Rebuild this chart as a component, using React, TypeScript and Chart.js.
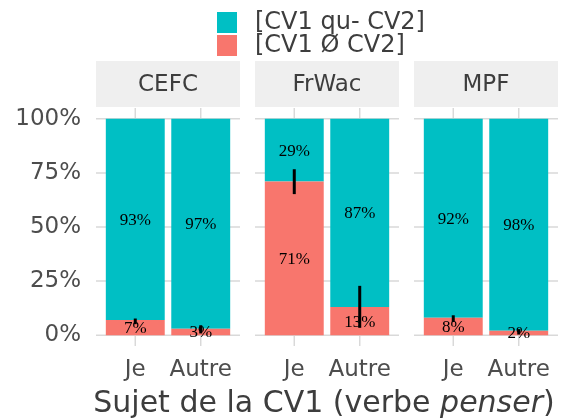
import React, { useEffect, useRef } from "react";
import { Chart, registerables } from "chart.js";

Chart.register(...registerables);

// ---------- data ----------
const facets = ["CEFC", "FrWac", "MPF"];
const subjects = ["Je", "Autre"];
const seriesLabels = ["[CV1 Ø CV2]", "[CV1 qu- CV2]"];
const seriesColors = ["#F8766D", "#00BFC4"];
// one value per (facet, subject): CEFC-Je, CEFC-Autre, FrWac-Je, FrWac-Autre, MPF-Je, MPF-Autre
const zeroPct = [7, 3, 71, 13, 8, 2];
const quPct = [93, 97, 29, 87, 92, 98];
const errLow = [5.1, 0.8, 65.2, 3.4, 6.1, 0.3];
const errHigh = [7.7, 4.6, 76.7, 22.8, 9.2, 2.8];
const yTicks = [0, 25, 50, 75, 100];
const xTitleParts = [
  { text: "Sujet de la CV1 (verbe ", italic: false },
  { text: "penser", italic: true },
  { text: ")", italic: false },
];

// ---------- facet geometry (in x-scale units) ----------
const EXPAND = 0.6;
const PANEL = subjects.length - 1 + 2 * EXPAND;
const GAP = 0.229;
const facetStart = (f: number) => f * (PANEL + GAP);
const slotOf = (i: number) =>
  facetStart(Math.floor(i / subjects.length)) + EXPAND + (i % subjects.length);
const X_MAX = facets.length * PANEL + (facets.length - 1) * GAP;
const slots = zeroPct.map((_, i) => slotOf(i));

const FONT = "'DejaVu Sans'";
const TEXT_DARK = "#3d3d3d";
const TICK_COLOR = "#4d4d4d";
const GRID_COLOR = "#d9d9d9";

const facetPlugin = {
  id: "facetDecor",
  beforeDatasetsDraw(chart: any) {
    const { ctx, chartArea, scales } = chart;
    const xs = scales.x;
    const ys = scales.y;
    ctx.save();
    facets.forEach((name, f) => {
      const left = xs.getPixelForValue(facetStart(f));
      const right = xs.getPixelForValue(facetStart(f) + PANEL);
      // strip
      ctx.fillStyle = "#efefef";
      ctx.fillRect(left, chartArea.top - 47, right - left, 46);
      ctx.fillStyle = TEXT_DARK;
      ctx.font = `23px ${FONT}`;
      ctx.textAlign = "center";
      ctx.textBaseline = "middle";
      ctx.fillText(name, (left + right) / 2, chartArea.top - 23);
      // grid
      ctx.strokeStyle = GRID_COLOR;
      ctx.lineWidth = 1.5;
      yTicks.forEach((t) => {
        const y = ys.getPixelForValue(t);
        ctx.beginPath();
        ctx.moveTo(left, y);
        ctx.lineTo(right, y);
        ctx.stroke();
      });
      subjects.forEach((_, s) => {
        const x = xs.getPixelForValue(facetStart(f) + EXPAND + s);
        ctx.beginPath();
        ctx.moveTo(x, chartArea.top);
        ctx.lineTo(x, chartArea.bottom);
        ctx.stroke();
      });
    });
    ctx.restore();
  },
  afterDatasetsDraw(chart: any) {
    const { ctx, scales, chartArea } = chart;
    const xs = scales.x;
    const ys = scales.y;
    ctx.save();
    // value labels
    ctx.font = "17px 'Liberation Serif'";
    ctx.fillStyle = "#000";
    ctx.textAlign = "center";
    ctx.textBaseline = "middle";
    chart.data.datasets.forEach((ds: any, di: number) => {
      const meta = chart.getDatasetMeta(di);
      meta.data.forEach((el: any, i: number) => {
        const p = el.getProps(["x", "y", "base"], true);
        ctx.fillText(ds.data[i].y + "%", p.x, (p.y + p.base) / 2 + 1);
      });
    });
    // error bars
    ctx.strokeStyle = "#000";
    ctx.lineWidth = 3;
    ctx.lineCap = "butt";
    slots.forEach((s, i) => {
      const x = xs.getPixelForValue(s);
      ctx.beginPath();
      ctx.moveTo(x, ys.getPixelForValue(errLow[i]));
      ctx.lineTo(x, ys.getPixelForValue(errHigh[i]));
      ctx.stroke();
    });
    // legend (reverse order: top series first)
    const order = chart.data.datasets.map((_: any, i: number) => i).reverse();
    ctx.font = `24px ${FONT}`;
    ctx.textAlign = "left";
    ctx.textBaseline = "middle";
    order.forEach((di: number, row: number) => {
      const ds = chart.data.datasets[di];
      const top = 12 + row * 23;
      ctx.fillStyle = ds.backgroundColor;
      ctx.fillRect(217, top, 20, 21);
      ctx.fillStyle = TEXT_DARK;
      ctx.fillText(ds.label, 255, top + 11);
    });
    // x axis title with italic part
    const fonts = (it: boolean) => `${it ? "italic " : ""}30px ${FONT}`;
    let total = 0;
    const widths = xTitleParts.map((p) => {
      ctx.font = fonts(p.italic);
      const w = ctx.measureText(p.text).width;
      total += w;
      return w;
    });
    let x = (chartArea.left + chartArea.right) / 2 - 3 - total / 2;
    ctx.fillStyle = TEXT_DARK;
    ctx.textBaseline = "alphabetic";
    xTitleParts.forEach((p, i) => {
      ctx.font = fonts(p.italic);
      ctx.fillText(p.text, x, 412);
      x += widths[i];
    });
    ctx.restore();
  },
};

export default function App() {
  const ref = useRef<HTMLCanvasElement>(null);
  useEffect(() => {
    const canvas = ref.current;
    if (!canvas) return;
    const chart = new Chart(canvas, {
      type: "bar",
      data: {
        datasets: [
          {
            label: seriesLabels[0],
            data: zeroPct.map((v, i) => ({ x: slots[i], y: v })),
            backgroundColor: seriesColors[0],
            borderWidth: 0,
            barPercentage: 0.9,
            categoryPercentage: 1,
          },
          {
            label: seriesLabels[1],
            data: quPct.map((v, i) => ({ x: slots[i], y: v })),
            backgroundColor: seriesColors[1],
            borderWidth: 0,
            barPercentage: 0.9,
            categoryPercentage: 1,
          },
        ],
      } as any,
      options: {
        animation: false,
        responsive: false,
        devicePixelRatio: 1,
        layout: { padding: { top: 108, right: 4, left: 0, bottom: 0 } },
        plugins: { legend: { display: false }, tooltip: { enabled: false } },
        scales: {
          x: {
            type: "linear",
            offset: false,
            stacked: true,
            min: 0,
            max: X_MAX,
            grid: { display: false, drawTicks: false, offset: false },
            border: { display: false },
            afterBuildTicks: (s: any) => {
              s.ticks = slots.map((v) => ({ value: v }));
            },
            afterFit: (s: any) => {
              s.height = 73;
            },
            ticks: {
              autoSkip: false,
              maxRotation: 0,
              padding: 10,
              color: TICK_COLOR,
              font: { family: "DejaVu Sans", size: 23 },
              callback: (_v: any, i: number) => subjects[i % subjects.length],
            },
          },
          y: {
            type: "linear",
            stacked: true,
            min: -5,
            max: 105,
            grid: { display: false, drawTicks: false },
            border: { display: false },
            afterBuildTicks: (s: any) => {
              s.ticks = yTicks.map((v) => ({ value: v }));
            },
            afterFit: (s: any) => {
              s.width = 96;
            },
            ticks: {
              padding: 15,
              color: TICK_COLOR,
              font: { family: "DejaVu Sans", size: 23 },
              callback: (v: any) => v + "%",
            },
          },
        },
      } as any,
      plugins: [facetPlugin],
    });
    return () => chart.destroy();
  }, []);
  return (
    <div style={{ position: "absolute", left: 0, top: 0, width: 562, height: 419, background: "#fff" }}>
      <canvas ref={ref} width={562} height={419} style={{ display: "block" }} />
    </div>
  );
}
